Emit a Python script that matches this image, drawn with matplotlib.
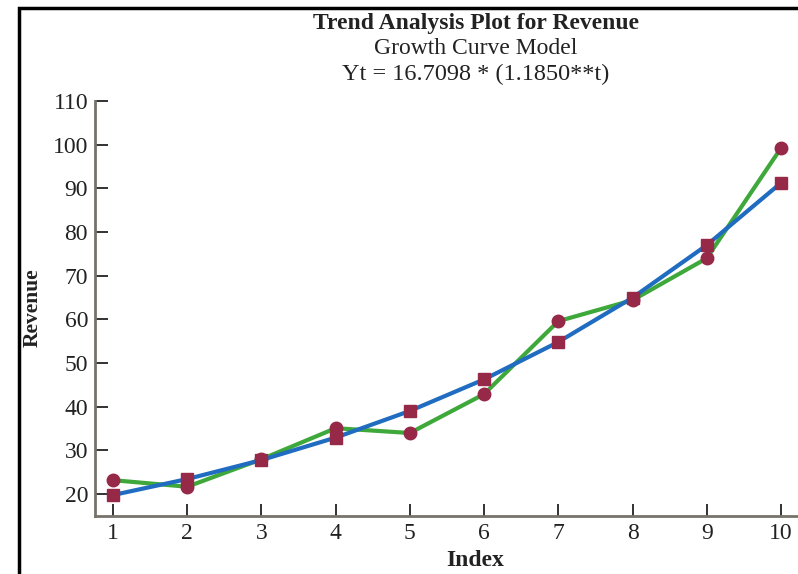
import numpy as np
import matplotlib.pyplot as plt
from matplotlib.patches import Rectangle

# data
index = [1, 2, 3, 4, 5, 6, 7, 8, 9, 10]
actual = [23.2, 21.7, 28.0, 35.1, 34.0, 42.9, 59.6, 64.4, 74.0, 99.2]
fits = [19.80, 23.46, 27.81, 32.95, 39.05, 46.27, 54.83, 64.97, 77.00, 91.24]
yticks = [20, 30, 40, 50, 60, 70, 80, 90, 100, 110]

plt.rcParams['font.family'] = ['Liberation Serif', 'DejaVu Serif']

fig = plt.figure(figsize=(7.98, 5.74), dpi=100)
ax = fig.add_axes([95 / 798, 1 - 516 / 574, 703 / 798, 415 / 574])

green = '#3ea83a'
blue = '#1f6cc0'
maroon = '#962848'

ax.plot(index, actual, color=green, lw=3, marker='o', ms=9,
        mfc=maroon, mec=maroon, zorder=3)
ax.plot(index, fits, color=blue, lw=3, marker='s', ms=9,
        mfc=maroon, mec=maroon, zorder=4)

ax.set_xlim(0.757, 10.23)
ax.set_ylim(15, 110)
ax.set_xticks(index)
ax.set_yticks(yticks)
ax.tick_params(direction='in', length=9, width=1.3, labelsize=17,
               colors='#222222', pad=5)
for s in ['top', 'right']:
    ax.spines[s].set_visible(False)
for s in ['left', 'bottom']:
    ax.spines[s].set_color('#77736a')
    ax.spines[s].set_linewidth(2)

fig.text(33 / 798, 1 - 308 / 574, 'Revenue', rotation=90, ha='center',
         va='center', fontsize=15.5, fontweight='bold', color='#222222')
fig.text(475 / 798, 1 - 560 / 574, 'Index', ha='center', va='center',
         fontsize=17, fontweight='bold', color='#222222')

fig.text(476 / 798, 1 - 23 / 574, 'Trend Analysis Plot for Revenue',
         ha='center', va='center', fontsize=17, fontweight='bold', color='#222222')
fig.text(476 / 798, 1 - 49 / 574, 'Growth Curve Model',
         ha='center', va='center', fontsize=17, color='#222222')
fig.text(476 / 798, 1 - 74 / 574, 'Yt = 16.7098 * (1.1850**t)',
         ha='center', va='center', fontsize=17.5, color='#222222')

# outer frame, cropped at right and bottom
fig.patches.append(Rectangle((19 / 798, -0.05), 1.2, 1 - 8 / 574 + 0.05,
                             transform=fig.transFigure, fill=False,
                             edgecolor='black', lw=2.5))

fig.savefig('out.png', dpi=100)
